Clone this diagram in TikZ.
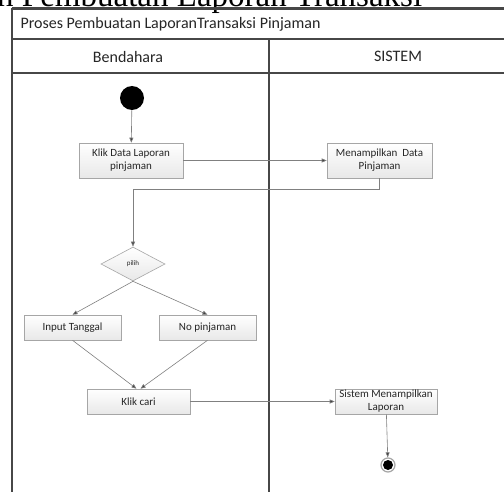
\documentclass[tikz,border=0pt]{standalone}
\usepackage{fontspec}
\setmainfont{Carlito}
\newfontfamily\capfont{Liberation Serif}
\usetikzlibrary{shapes.geometric,arrows.meta,shadows}

\begin{document}
\begin{tikzpicture}[x=1pt,y=-1pt,
  lane/.style={draw=black!72, line width=2.5pt},
  act/.style={draw=black!35, line width=0.6pt, top color=white, bottom color=black!9,
    align=center, inner sep=1pt, font=\fontsize{11}{13}\selectfont, text=black!85,
    drop shadow={opacity=0.12, shadow xshift=1pt, shadow yshift=-1pt}},
  flow/.style={draw=black!50, line width=0.6pt,
    -{Triangle[length=5pt,width=4pt,fill=black!75]}},
  head/.style={font=\fontsize{16}{18}\selectfont, text=black!85},
]
\useasboundingbox (0,0) rectangle (504,492);
\fill[white] (0,0) rectangle (504,492);
\clip (0,0) rectangle (504,492);

% caption above the frame
\node[anchor=base west, inner sep=0, font=\capfont\fontsize{33}{36}\selectfont]
  (cap) at (-3,6.5) {n Pembuatan Laporan Transaksi};

% swimlane frame
\draw[lane] (12,8.5) -- (510,8.5);
\draw[lane] (12,39) -- (510,39);
\draw[lane] (12,73) -- (510,73);
\draw[lane] (12,8.5) -- (12,500);
\draw[lane] (269,39) -- (269,500);

\node[head, anchor=west] (title) at (17,24) {Proses Pembuatan LaporanTransaksi Pinjaman};
\node[head] (lane1) at (128,57) {Bendahara};
\node[head] (lane2) at (398,56) {SISTEM};

% activities
\node[circle, fill=black, minimum size=24pt, inner sep=0] (start) at (132,98) {};
\node[act, minimum width=104pt, minimum height=35pt] (klik) at (131,160.5)
  {Klik Data Laporan\\pinjaman};
\node[act, minimum width=105pt, minimum height=35pt] (tampil) at (379.5,160.5)
  {Menampilkan\ \ Data\\Pinjaman};
\node[diamond, draw=black!35, line width=0.6pt, top color=white, bottom color=black!9,
  minimum width=64pt, minimum height=34pt, inner sep=0, text=black!85,
  font=\fontsize{7}{8}\selectfont] (pilih) at (133,264) {pilih};
\node[act, minimum width=97pt, minimum height=25pt] (input) at (72.5,327.5) {Input Tanggal};
\node[act, minimum width=97pt, minimum height=25pt] (nopin) at (207.5,327.5) {No pinjaman};
\node[act, minimum width=103pt, minimum height=25pt] (cari) at (138.5,401.5) {Klik cari};
\node[act, minimum width=102pt, minimum height=25pt] (lap) at (386,401.5)
  {Sistem Menampilkan\\Laporan};
\node[circle, draw=black!35, line width=1.2pt, fill=white, minimum size=14pt, inner sep=0]
  (end) at (388,465) {};
\node[circle, fill=black, minimum size=10pt, inner sep=0] (endin) at (end) {};

% control flow
\coordinate (turn) at (133,189);
\draw[flow] (start) -- (klik);
\draw[flow] (klik) -- (tampil);
\draw[flow] (tampil.south) -- (tampil.south |- turn) -- (turn) -- (pilih.north);
\draw[flow] (pilih.south) -- (input.north);
\draw[flow] (pilih.south) -- (nopin.north);
\draw[flow] (input.south) -- ([xshift=-2pt]cari.north);
\draw[flow] (nopin.south) -- ([xshift=2pt]cari.north);
\draw[flow] (cari) -- (lap);
\draw[flow] (lap) -- (end);
\end{tikzpicture}
\end{document}
